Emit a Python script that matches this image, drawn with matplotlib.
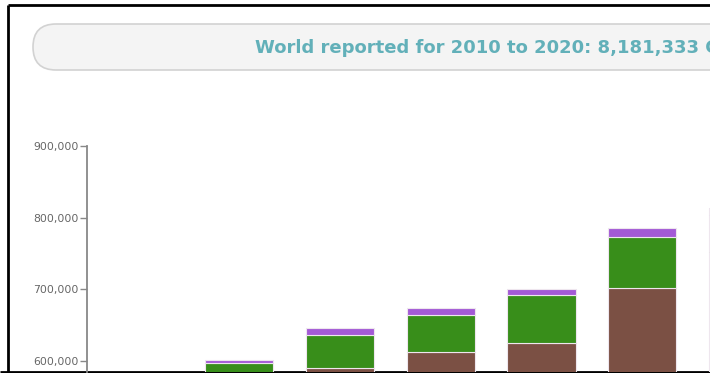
import matplotlib.pyplot as plt
from matplotlib.patches import FancyBboxPatch
import numpy as np

# Data (values in Gg)
years = ['2010', '2011', '2012', '2013', '2014', '2015', '2016']
brown = [480000, 560000, 590800, 613100, 625700, 702000, 752000]
green = [70000, 37350, 45600, 51600, 66500, 71100, 52000]
purple = [6000, 4200, 9350, 8900, 8350, 12950, 9500]
title = 'World reported for 2010 to 2020: 8,181,333 Gigagrams'
yticks = [600000, 700000, 800000, 900000]

c_brown = '#7b5044'
c_green = '#388e1a'
c_purple = '#a35ad6'

W, H = 710, 373
fig = plt.figure(figsize=(W / 100, H / 100), dpi=100)

# background layer in pixel coordinates
bg = fig.add_axes([0, 0, 1, 1])
bg.set_xlim(0, W)
bg.set_ylim(H, 0)
bg.axis('off')
pill = FancyBboxPatch((33, 24), 760, 46, boxstyle='round,pad=0,rounding_size=23',
                      facecolor='#f4f4f4', edgecolor='#d2d2d2', linewidth=1.2)
bg.add_patch(pill)
bg.text(255, 48, title, fontsize=13, fontweight='bold', family='DejaVu Sans',
        color='#62b0b9', va='center', ha='left', clip_on=True)
bg.plot([8, W], [5, 5], color='black', lw=2, solid_capstyle='butt')
bg.plot([8, 8], [5, 372], color='black', lw=2, solid_capstyle='butt')
bg.plot([0, W], [372, 372], color='black', lw=2, solid_capstyle='butt')

# chart axes: left edge at x=87px, top (900,000) at y=146px, runs off the right/bottom
ax = fig.add_axes([87 / W, 1 / H, (W - 87) / W, (372 - 146) / H])
ax.set_facecolor('none')
x = np.arange(len(years))
bw = 68 / 101
ec = dict(edgecolor='#eee6ee', linewidth=0.8)
ax.bar(x, brown, bw, color=c_brown, **ec)
ax.bar(x, green, bw, bottom=brown, color=c_green, **ec)
ax.bar(x, purple, bw, bottom=np.array(brown) + np.array(green), color=c_purple, **ec)

y_bottom = 900000 - (372 - 146) * 100000 / 71.7
ax.set_ylim(y_bottom, 900000)
ax.set_xlim(-0.5, (W - 137.5) / 101)
ax.set_yticks(yticks)
ax.set_yticklabels([f'{v:,}' for v in yticks], fontsize=7.8, color='#666666')
ax.tick_params(axis='y', length=5, width=1, color='#888888', pad=1)
ax.set_xticks([])
for s in ['top', 'right', 'bottom']:
    ax.spines[s].set_visible(False)
ax.spines['left'].set_color('#888888')
ax.spines['left'].set_linewidth(1.3)

fig.savefig('out.png', dpi=100)
